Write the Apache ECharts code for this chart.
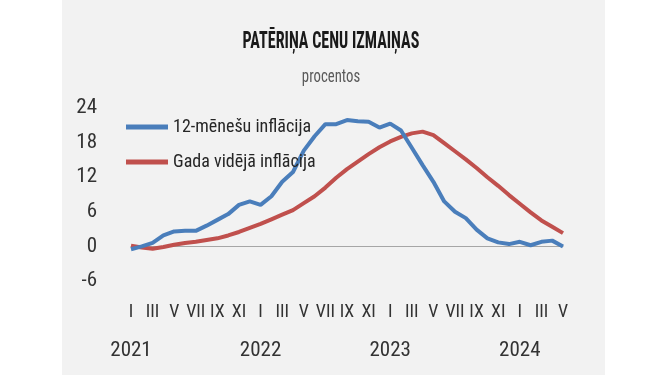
<!DOCTYPE html>
<html>
<head>
<meta charset="utf-8">
<script src="https://cdn.jsdelivr.net/npm/echarts@6/dist/echarts.min.js"></script>
<style>
html,body{margin:0;padding:0;background:#ffffff;}
#chart{width:665px;height:375px;}
</style>
</head>
<body>
<div id="chart"></div>
<script>
const categories = [
  '2021-01','2021-02','2021-03','2021-04','2021-05','2021-06','2021-07','2021-08','2021-09','2021-10','2021-11','2021-12',
  '2022-01','2022-02','2022-03','2022-04','2022-05','2022-06','2022-07','2022-08','2022-09','2022-10','2022-11','2022-12',
  '2023-01','2023-02','2023-03','2023-04','2023-05','2023-06','2023-07','2023-08','2023-09','2023-10','2023-11','2023-12',
  '2024-01','2024-02','2024-03','2024-04','2024-05'
];
const monthRoman = ['I','II','III','IV','V','VI','VII','VIII','IX','X','XI','XII'];
const inflation12m = [
  -0.5, 0.0, 0.6, 1.9, 2.6, 2.7, 2.7, 3.6, 4.6, 5.6, 7.2, 7.8,
  7.2, 8.7, 11.2, 12.9, 16.6, 19.1, 21.2, 21.2, 21.9, 21.7, 21.6, 20.6,
  21.3, 20.1, 17.1, 14.1, 11.2, 7.8, 6.0, 4.9, 2.9, 1.4, 0.7, 0.4,
  0.8, 0.2, 0.8, 1.0, 0.0
];
const inflationAvg = [
  0.1, -0.2, -0.4, -0.1, 0.3, 0.6, 0.8, 1.1, 1.4, 1.9, 2.5, 3.2,
  3.9, 4.7, 5.5, 6.3, 7.5, 8.7, 10.2, 11.9, 13.4, 14.7, 16.0, 17.2,
  18.2, 19.0, 19.6, 19.9, 19.3, 17.9, 16.5, 15.1, 13.6, 12.0, 10.5, 8.9,
  7.4, 5.9, 4.5, 3.4, 2.3
];
const seriesNames = ['12-mēnešu inflācija', 'Gada vidējā inflācija'];
const titleText = 'PATĒRIŅA CENU IZMAIŅAS';
const subtitleText = 'procentos';
const yMin = -6, yMax = 24, yStep = 6;

const FONT = "'Roboto Condensed','DejaVu Sans Condensed',sans-serif";
const chart = echarts.init(document.getElementById('chart'), null, {renderer:'canvas'});
chart.setOption({
  backgroundColor: '#ffffff',
  animation: false,
  graphic: [
    {type:'rect', z:-10, silent:true, shape:{x:62, y:0, width:543, height:375}, style:{fill:'#f2f2f2'}},
    {type:'text', x:331, y:42, scaleX:0.67, style:{text:titleText, fontFamily:FONT, fontWeight:'bold', fontSize:24, fill:'#1a1a1a', align:'center', verticalAlign:'middle'}},
    {type:'text', x:331, y:77, scaleX:0.82, style:{text:subtitleText, fontFamily:FONT, fontSize:18, fill:'#595959', align:'center', verticalAlign:'middle'}}
  ],
  legend: {
    orient:'vertical', left:121, top:113, icon:'rect', itemWidth:42, itemHeight:5, itemGap:17,
    textStyle:{fontFamily:FONT, fontSize:18, color:'#262626'},
    data: seriesNames
  },
  grid: {left:131, right:102, top:108, bottom:94, containLabel:false},
  xAxis: [
    {type:'category', data:categories, boundaryGap:false, position:'bottom',
     axisLine:{show:false, onZero:false}, axisTick:{show:false}, splitLine:{show:false},
     axisLabel:{interval:1, margin:22, fontFamily:FONT, fontSize:18, color:'#333333',
       formatter:(v)=>monthRoman[parseInt(v.slice(5),10)-1]}},
    {type:'category', data:categories, boundaryGap:false, position:'bottom',
     axisLine:{show:false, onZero:false}, axisTick:{show:false}, splitLine:{show:false},
     axisLabel:{interval:(i)=>i%12===0, margin:59, fontFamily:FONT, fontSize:21, color:'#333333',
       formatter:(v)=>v.slice(0,4)}},
    {type:'category', data:categories, boundaryGap:false,
     axisLine:{show:true, onZero:true, lineStyle:{color:'#a6a6a6', width:1}}, axisTick:{show:false},
     axisLabel:{show:false}, splitLine:{show:false}}
  ],
  yAxis: {
    type:'value', min:yMin, max:yMax, interval:yStep,
    axisLine:{show:false}, axisTick:{show:false}, splitLine:{show:false},
    axisLabel:{margin:34, fontFamily:FONT, fontSize:21, color:'#333333'}
  },
  series: [
    {name:seriesNames[0], type:'line', data:inflation12m, xAxisIndex:0, symbol:'none',
     lineStyle:{color:'#4a7ebb', width:4}, itemStyle:{color:'#4a7ebb'}, z:3},
    {name:seriesNames[1], type:'line', data:inflationAvg, xAxisIndex:0, symbol:'none',
     lineStyle:{color:'#c0504d', width:4}, itemStyle:{color:'#c0504d'}, z:2}
  ]
});
</script>
</body>
</html>
